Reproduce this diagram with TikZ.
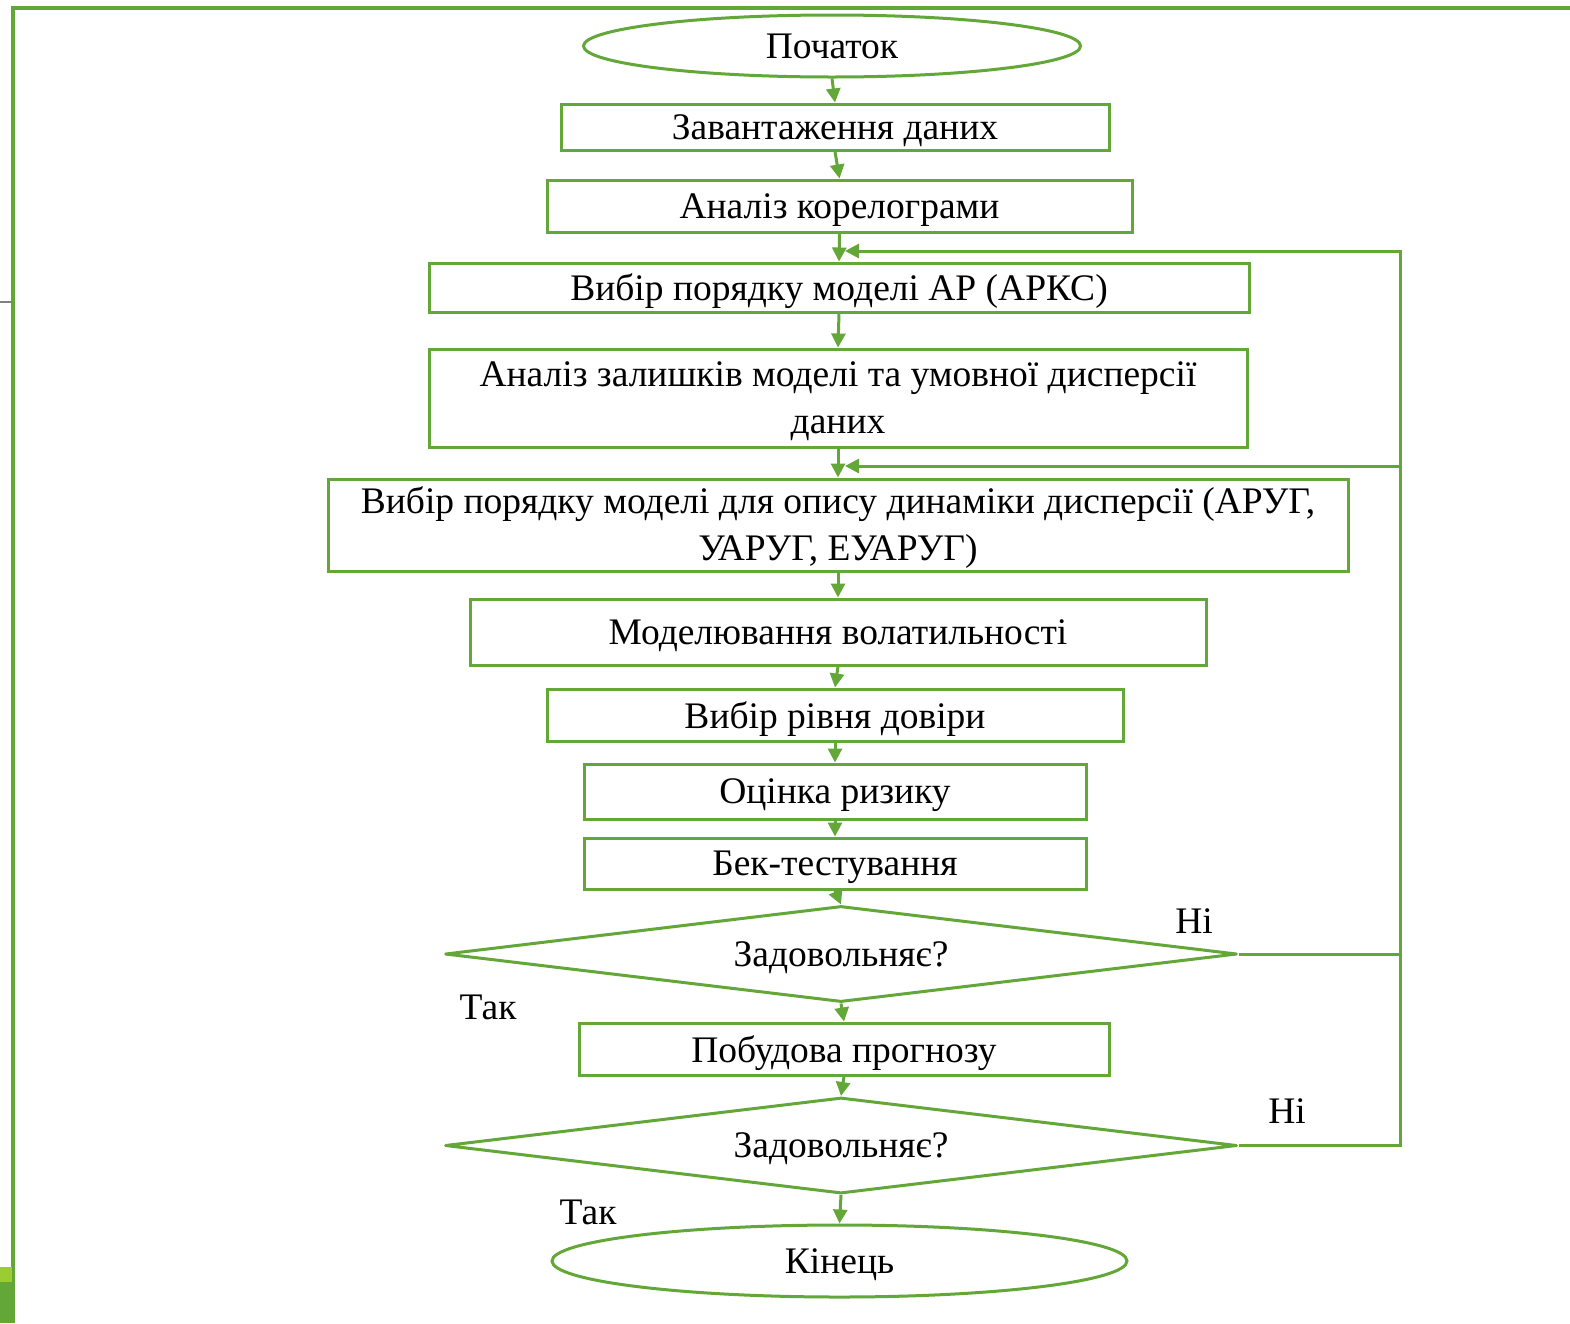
\documentclass[tikz,border=0pt]{standalone}
\usepackage{fontspec}
\setmainfont{Liberation Serif}
\usepackage{tikz}
\usetikzlibrary{shapes,arrows.meta,positioning}
\definecolor{flowgreen}{RGB}{99,167,57}
\definecolor{leafgreen}{RGB}{154,205,50}

\begin{document}
\begin{tikzpicture}[x=1pt, y=-1pt,
    every node/.style={font=\fontsize{37.5}{47}\selectfont},
    block/.style={draw=flowgreen, line width=3pt, inner sep=0pt, align=center, text depth=0pt},
    terminal/.style={ellipse, draw=flowgreen, line width=3pt, inner sep=0pt},
    decision/.style={diamond, draw=flowgreen, line width=3pt, line join=round, inner sep=0pt, aspect=8.25, minimum width=792, minimum height=96, text depth=0pt},
    flow/.style={->, >={Triangle[length=14pt, width=14pt]}, draw=flowgreen, line width=3pt}]
    \useasboundingbox (0,0) rectangle (1570,1323);

    % slide frame
    \draw[flowgreen, line width=4pt] (1570,8) -- (13,8) -- (13,1323);
    \draw[gray, line width=1.5pt] (0,302) -- (12,302);
    \fill[flowgreen] (0,1282) rectangle (15,1323);
    \fill[leafgreen] (0,1267) rectangle (12,1282);

    \node[terminal, minimum width=497, minimum height=62] (start) at (832,46) {Початок};
    \node[block, minimum width=548, minimum height=46] (load) at (835,127) {Завантаження даних};
    \node[block, minimum width=585, minimum height=52] (corr) at (839.5,206) {Аналіз корелограми};
    \node[block, minimum width=820, minimum height=49] (arord) at (839,287.5) {Вибір порядку моделі АР (АРКС)};
    \node[block, minimum width=818, minimum height=98] (resid) at (838,398) {Аналіз залишків моделі та умовної дисперсії\\даних};
    \node[block, minimum width=1020, minimum height=92, text depth=2pt] (garch) at (838,525) {Вибір порядку моделі для опису динаміки дисперсії (АРУГ,\\УАРУГ, ЕУАРУГ)};
    \node[block, minimum width=736, minimum height=66] (vol) at (838,632) {Моделювання волатильності};
    \node[block, minimum width=576, minimum height=52] (conf) at (835,715) {Вибір рівня довіри};
    \node[block, minimum width=502, minimum height=55] (risk) at (835,791.5) {Оцінка ризику};
    \node[block, minimum width=502, minimum height=51] (back) at (835,863.5) {Бек-тестування};
    \node[decision] (ok1) at (841,954) {Задовольняє?};
    \node[block, minimum width=530, minimum height=52] (fcast) at (844,1049) {Побудова прогнозу};
    \node[decision] (ok2) at (841,1145.5) {Задовольняє?};
    \node[terminal, minimum width=575, minimum height=72, text depth=0pt] (stop) at (839.5,1261) {Кінець};

    \node (no1) at (1194,921) {Ні};
    \node (yes1) at (488,1007) {Так};
    \node (no2) at (1287,1111) {Ні};
    \node (yes2) at (588,1212) {Так};

    \draw[flow] (start.south) -- (load.north);
    \draw[flow] (load.south) -- (corr.north);
    \draw[flow] (corr.south) -- (arord.north);
    \draw[flow] (arord.south) -- (resid.north);
    \draw[flow] (resid.south) -- (garch.north);
    \draw[flow] (garch.south) -- (vol.north);
    \draw[flow] (vol.south) -- (conf.north);
    \draw[flow] (conf.south) -- (risk.north);
    \draw[flow] (risk.south) -- (back.north);
    \draw[flow] (back.south) -- (ok1.north);
    \draw[flow] (ok1.south) -- (fcast.north);
    \draw[flow] (fcast.south) -- (ok2.north);
    \draw[flow] (ok2.south) -- (stop.north);

    % loops back on "Ні"
    \coordinate (rail) at (1400,600);
    \coordinate (back1) at (845,251);
    \coordinate (back2) at (845,466);
    \draw[flow] (ok1.east) -- (ok1.east -| rail) |- (back1);
    \draw[flow] (ok2.east) -- (ok2.east -| rail) |- (back2);
\end{tikzpicture}
\end{document}
